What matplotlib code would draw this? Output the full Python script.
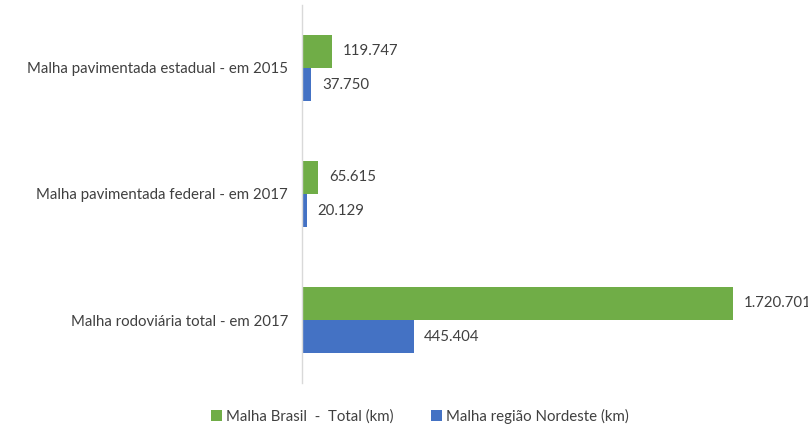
import matplotlib
matplotlib.use("Agg")
import matplotlib.pyplot as plt
import numpy as np

categories = ["Malha pavimentada estadual - em 2015",
              "Malha pavimentada federal - em 2017",
              "Malha rodoviária total - em 2017"]
brasil = [119747, 65615, 1720701]
nordeste = [37750, 20129, 445404]
series_names = ["Malha Brasil  -  Total (km)", "Malha região Nordeste (km)"]
colors = ["#70AD47", "#4472C4"]

plt.rcParams['font.family'] = ['Lato', 'DejaVu Sans']

def fmt(v):
    return f"{v:,}".replace(",", ".")

fig = plt.figure(figsize=(8.08, 4.30), dpi=100)
ax = fig.add_axes([302/808, 1 - 383/430, 451/808, 378/430])

y = np.arange(len(categories))
h = 0.262
ax.barh(y - h/2, brasil, height=h, color=colors[0], label=series_names[0])
ax.barh(y + h/2, nordeste, height=h, color=colors[1], label=series_names[1])
ax.set_ylim(len(categories) - 0.5, -0.5)
ax.set_xlim(0, 1.8e6)

txtc = "#404040"
fs = 10.8
for i in range(len(categories)):
    ax.annotate(fmt(brasil[i]), (brasil[i], y[i] - h/2), xytext=(8, 0),
                textcoords="offset points", va="center", ha="left", fontsize=fs, color=txtc)
    ax.annotate(fmt(nordeste[i]), (nordeste[i], y[i] + h/2), xytext=(7.5, 0),
                textcoords="offset points", va="center", ha="left", fontsize=fs, color=txtc)

ax.set_yticks(y)
ax.set_yticklabels(categories, fontsize=fs, color=txtc)
ax.tick_params(axis='y', length=0, pad=10)
ax.set_xticks([])
for s in ["top", "right", "bottom"]:
    ax.spines[s].set_visible(False)
ax.spines["left"].set_color("#D9D9D9")
ax.spines["left"].set_linewidth(1)

fig.legend(loc="center", bbox_to_anchor=(420/808, 1 - 416/430), ncol=2, frameon=False,
           fontsize=fs, handlelength=0.7, handleheight=0.7, columnspacing=2.5,
           handletextpad=0.3, labelcolor=txtc)

fig.savefig("out.png", dpi=100)
